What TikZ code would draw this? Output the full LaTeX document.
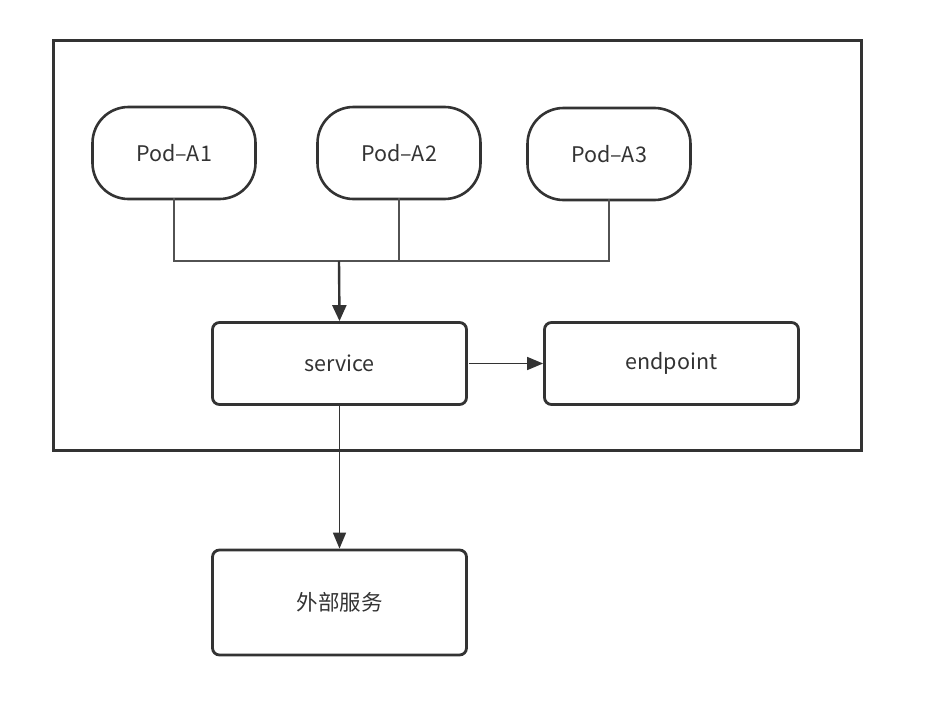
\documentclass[tikz,border=0pt]{standalone}
\usepackage{fontspec}
\setmainfont{Noto Sans CJK SC}
\usetikzlibrary{arrows.meta}
\definecolor{ink}{HTML}{333333}
\tikzset{
  pod/.style={draw=ink, line width=2.6pt, rounded corners=36pt, minimum width=163pt, minimum height=92pt, font=\fontsize{21.5}{24}\selectfont, text=ink, inner sep=0pt},
  box/.style={draw=ink, line width=2.8pt, rounded corners=7pt, minimum width=254pt, minimum height=82pt, font=\fontsize{21.5}{24}\selectfont, text=ink, inner sep=0pt},
  link/.style={draw=ink!85, line width=1.6pt},
  arr/.style={draw=ink, line width=2.4pt, -{Triangle[length=16pt,width=14pt]}},
  arrthin/.style={draw=ink, line width=1.6pt, -{Triangle[length=16pt,width=13pt]}}
}
\begin{document}
\begin{tikzpicture}[x=1pt,y=-1pt]
\useasboundingbox (0,0) rectangle (942,704);
\node[draw=ink, line width=3pt, minimum width=808pt, minimum height=410pt, inner sep=0pt] (frame) at (457,245) {};
\node[pod] (a1) at (174,153) {Pod–A1};
\node[pod] (a2) at (399,153) {Pod–A2};
\node[pod] (a3) at (609,154) {Pod–A3};
\node[box] (svc) at (339.5,363.5) {service};
\node[box] (ep) at (671.5,363.5) {endpoint};
\node[box, minimum height=105pt] (ext) at (339.5,602.5) {外部服务};
\coordinate (j) at (339,261);
\draw[link] ([yshift=2pt]a1.south) |- (j) -| ([yshift=2pt]a3.south);
\draw[link] ([yshift=2pt]a2.south) -- (a2.south |- j);
\draw[arr] (j) -- (svc.north);
\draw[arrthin] ([xshift=1pt]svc.east) -- (ep.west);
\draw[arrthin] (svc.south) -- (ext.north);
\end{tikzpicture}
\end{document}
